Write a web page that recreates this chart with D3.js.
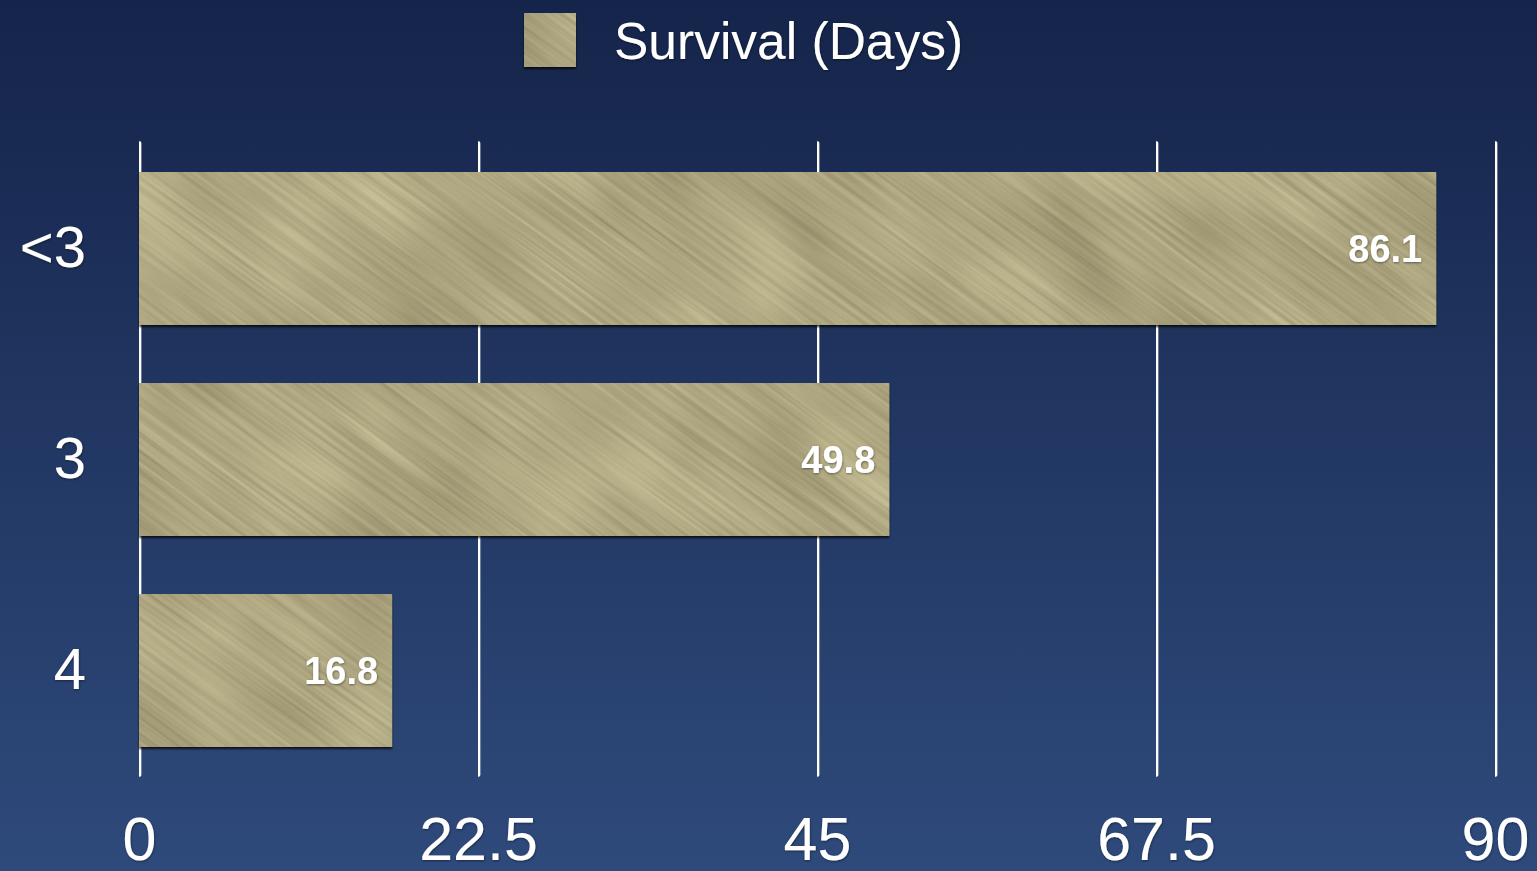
<!DOCTYPE html>
<html>
<head>
<meta charset="utf-8">
<script src="https://cdn.jsdelivr.net/npm/d3@7/dist/d3.min.js"></script>
<style>
  html, body { margin: 0; padding: 0; background: #1c2f5c; }
  svg { display: block; }
  text { font-family: "Liberation Sans", Arial, Helvetica, sans-serif; fill: #ffffff; }
</style>
</head>
<body>
<svg id="chart" width="1537" height="871"></svg>
<script>
// Survival by stage
const categories = ["<3", "3", "4"];
const survivalDays = [86.1, 49.8, 16.8];
const tickValues = [0, 22.5, 45, 67.5, 90];
const seriesName = "Survival (Days)";

const W = 1537, H = 871;
const svg = d3.select("#chart");
const defs = svg.append("defs");

// Background: deep navy at the top fading to a lighter blue
const bg = defs.append("linearGradient").attr("id", "bgGrad")
  .attr("x1", 0).attr("y1", 0).attr("x2", 0).attr("y2", 1);
bg.append("stop").attr("offset", "0%").attr("stop-color", "#15244a");
bg.append("stop").attr("offset", "100%").attr("stop-color", "#2e4a7b");
svg.append("rect").attr("width", W).attr("height", H).attr("fill", "url(#bgGrad)");

// Brushed-metal fill for the bars
const tile = 1800;
const metal = defs.append("filter").attr("id", "brushed")
  .attr("filterUnits", "userSpaceOnUse")
  .attr("color-interpolation-filters", "sRGB")
  .attr("x", 0).attr("y", 0).attr("width", tile).attr("height", tile);
metal.append("feTurbulence").attr("type", "fractalNoise")
  .attr("baseFrequency", "0.005 0.25").attr("numOctaves", 3).attr("seed", 7)
  .attr("result", "streaks");
metal.append("feTurbulence").attr("type", "fractalNoise")
  .attr("baseFrequency", "0.008 0.014").attr("numOctaves", 2).attr("seed", 3)
  .attr("result", "mottle");
metal.append("feComposite").attr("in", "streaks").attr("in2", "mottle")
  .attr("operator", "arithmetic").attr("k1", 0).attr("k2", 0.5).attr("k3", 0.5).attr("k4", 0)
  .attr("result", "mix");
metal.append("feColorMatrix").attr("in", "mix").attr("type", "matrix")
  .attr("values", [
    "0.34 0 0 0 0.51",
    "0.34 0 0 0 0.48",
    "0.30 0 0 0 0.35",
    "0 0 0 0 1"
  ].join(" "))
  .attr("result", "tinted");
metal.append("feGaussianBlur").attr("in", "tinted").attr("stdDeviation", 0.6);

const pattern = defs.append("pattern").attr("id", "metalFill")
  .attr("patternUnits", "userSpaceOnUse")
  .attr("x", -300).attr("y", -600)
  .attr("width", tile).attr("height", tile)
  .attr("patternTransform", "rotate(36)");
pattern.append("rect").attr("width", tile).attr("height", tile)
  .attr("filter", "url(#brushed)");

// Shadows
const barShadow = defs.append("filter").attr("id", "barShadow")
  .attr("x", "-5%").attr("y", "-10%").attr("width", "110%").attr("height", "125%");
barShadow.append("feDropShadow").attr("dx", 0).attr("dy", 2).attr("stdDeviation", 0.8)
  .attr("flood-color", "#000").attr("flood-opacity", 0.75);

const textShadow = defs.append("filter").attr("id", "textShadow")
  .attr("x", "-10%").attr("y", "-20%").attr("width", "120%").attr("height", "140%");
textShadow.append("feDropShadow").attr("dx", 0.5).attr("dy", 1).attr("stdDeviation", 1)
  .attr("flood-color", "#000").attr("flood-opacity", 0.45);

const lineShadow = defs.append("filter").attr("id", "lineShadow")
  .attr("filterUnits", "userSpaceOnUse")
  .attr("x", 0).attr("y", -800).attr("width", W).attr("height", 900);
lineShadow.append("feDropShadow").attr("dx", -1.2).attr("dy", 0).attr("stdDeviation", 0.8)
  .attr("flood-color", "#8a93a8").attr("flood-opacity", 0.8);

// Plot area
const plotLeft = 139, plotRight = 1495, plotTop = 143, plotBottom = 776;

const x = d3.scaleLinear().domain([0, 90]).range([plotLeft, plotRight]);
const y = d3.scaleBand().domain(categories).range([plotTop, plotBottom])
  .paddingInner(0.275).paddingOuter(0.1375);

// Vertical gridlines with tick labels underneath
const xAxis = svg.append("g")
  .attr("transform", `translate(0,${plotBottom - 1})`)
  .call(d3.axisBottom(x).tickValues(tickValues)
    .tickSizeInner(-(plotBottom - 1 - plotTop)).tickSizeOuter(0).tickPadding(42)
    .tickFormat(d3.format("~g")));
xAxis.select(".domain").remove();
xAxis.selectAll(".tick line")
  .attr("stroke", "#ffffff").attr("stroke-width", 3.6)
  .attr("stroke-linecap", "round")
  .attr("filter", "url(#lineShadow)");
xAxis.selectAll(".tick text")
  .attr("font-size", 61).attr("fill", "#ffffff")
  .attr("filter", "url(#textShadow)");

// Category labels
const yAxis = svg.append("g")
  .attr("transform", `translate(${plotLeft},0)`)
  .call(d3.axisLeft(y).tickSize(0).tickPadding(53));
yAxis.select(".domain").remove();
yAxis.selectAll(".tick text")
  .attr("font-size", 58).attr("fill", "#ffffff")
  .attr("filter", "url(#textShadow)");

// Bars
const bars = svg.append("g");
bars.selectAll("rect").data(categories).join("rect")
  .attr("x", x(0))
  .attr("y", d => y(d))
  .attr("width", (d, i) => x(survivalDays[i]) - x(0))
  .attr("height", y.bandwidth())
  .attr("fill", "url(#metalFill)")
  .attr("filter", "url(#barShadow)");

// Value labels inside the bar ends
bars.selectAll("text").data(categories).join("text")
  .attr("x", (d, i) => x(survivalDays[i]) - 14)
  .attr("y", d => y(d) + y.bandwidth() / 2)
  .attr("dy", "0.36em")
  .attr("text-anchor", "end")
  .attr("font-size", 38).attr("font-weight", "bold")
  .attr("filter", "url(#textShadow)")
  .text((d, i) => survivalDays[i]);

// Legend
const legend = svg.append("g");
legend.append("rect")
  .attr("x", 524).attr("y", 13).attr("width", 52).attr("height", 54)
  .attr("fill", "url(#metalFill)")
  .attr("filter", "url(#barShadow)");
legend.append("text")
  .attr("x", 614).attr("y", 40).attr("dy", "0.36em")
  .attr("font-size", 51.5)
  .attr("filter", "url(#textShadow)")
  .text(seriesName);
</script>
</body>
</html>
